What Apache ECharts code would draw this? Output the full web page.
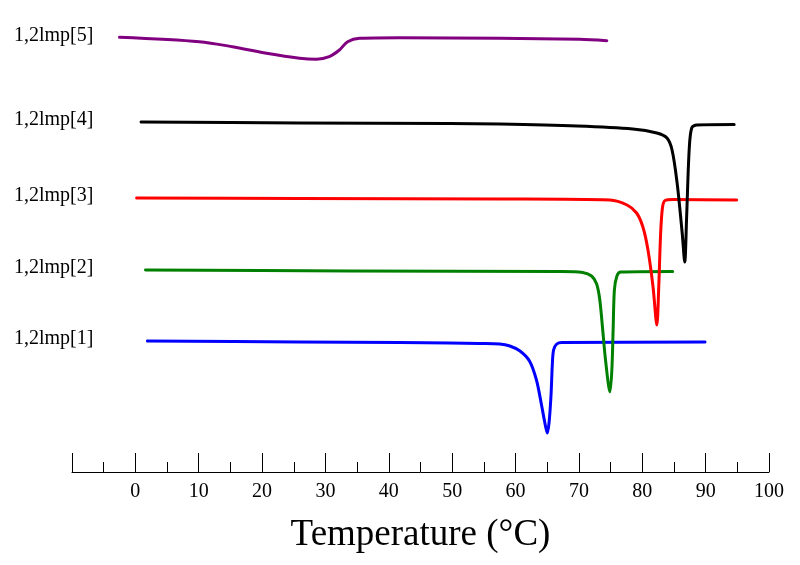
<!DOCTYPE html>
<html>
<head>
<meta charset="utf-8">
<script src="https://cdn.jsdelivr.net/npm/echarts@6/dist/echarts.min.js"></script>
<style>html,body{margin:0;padding:0;background:#fff}#c{width:800px;height:565px}</style>
</head>
<body>
<div id="c"></div>
<script>
// Series names (bottom to top)
const seriesNames = ['1,2lmp[1]', '1,2lmp[2]', '1,2lmp[3]', '1,2lmp[4]', '1,2lmp[5]'];
// Temperature (°C) and stacked heat-flow signal (arbitrary units, offset per trace)
const lmp1T = [1.9, 25.9, 41.7, 49.6, 54.3, 57.5, 59.1, 60.7, 62.2, 63.3, 64.1, 64.6, 65.0, 65.3, 65.6, 65.8, 66.0, 66.5, 67.3, 89.9];
const lmp1Y = [13.1, 13.0, 12.95, 12.9, 12.85, 12.8, 12.6, 12.1, 11.1, 9.2, 6.7, 5.0, 3.9, 5.0, 7.7, 10.7, 12.2, 12.8, 12.95, 13.0];
const lmp2T = [1.6, 33.8, 67.0, 70.6, 72.0, 72.8, 73.3, 73.8, 74.2, 74.9, 75.2, 75.4, 75.6, 76.0, 76.6, 84.8];
const lmp2Y = [20.2, 20.1, 20.05, 19.95, 19.6, 18.8, 17.2, 13.9, 11.2, 8.0, 10.2, 14.2, 18.2, 19.6, 20.0, 20.05];
const lmp3T = [0.2, 25.9, 57.5, 74.9, 77.6, 79.1, 80.1, 80.9, 81.7, 82.3, 82.6, 82.9, 83.2, 83.6, 84.8, 94.9];
const lmp3Y = [27.4, 27.35, 27.3, 27.2, 26.7, 25.9, 24.5, 22.2, 18.5, 14.7, 18.5, 23.9, 26.5, 27.15, 27.25, 27.2];
const lmp4T = [0.9, 25.9, 49.6, 57.5, 69.7, 78.5, 82.3, 83.9, 84.7, 85.5, 86.3, 86.7, 87.0, 87.4, 87.8, 88.6, 94.5];
const lmp4Y = [35.0, 34.9, 34.85, 34.8, 34.6, 34.3, 33.9, 33.4, 32.2, 28.9, 23.9, 21.0, 25.5, 32.2, 34.4, 34.7, 34.75];
const lmp5T = [-2.5, 10.1, 15.3, 20.7, 25.9, 28.6, 30.6, 32.2, 33.5, 35.4, 41.7, 57.5, 70.1, 74.4];
const lmp5Y = [43.47, 43.03, 42.53, 41.87, 41.37, 41.27, 41.53, 42.2, 43.03, 43.37, 43.43, 43.37, 43.27, 43.13];
// x-axis ticks
const xMin = -10, xMax = 100, xStep = 10;

const allT = [lmp1T, lmp2T, lmp3T, lmp4T, lmp5T];
const allY = [lmp1Y, lmp2Y, lmp3Y, lmp4Y, lmp5Y];
const colors = ['#0000ff', '#008000', '#ff0000', '#000000', '#800080'];
const serif = "'Liberation Serif','Times New Roman',serif";

const chart = echarts.init(document.getElementById('c'), null, {renderer: 'canvas'});
const series = allT.map((T, i) => ({
  name: seriesNames[i],
  type: 'line',
  data: T.map((t, j) => [t, allY[i][j]]),
  showSymbol: false,
  smooth: 0.3,
  lineStyle: {color: colors[i], width: 3, cap: 'round', join: 'round'},
  itemStyle: {color: colors[i]},
  animation: false
}));

chart.setOption({
  animation: false,
  grid: {left: 72, right: 31, top: 20, bottom: 93, containLabel: false},
  xAxis: {
    type: 'value', min: xMin, max: xMax, interval: xStep,
    axisLine: {show: true, lineStyle: {color: '#000', width: 1}},
    axisTick: {show: true, inside: true, length: 19, lineStyle: {color: '#000', width: 1}},
    minorTick: {show: true, splitNumber: 2, length: 10, lineStyle: {color: '#000', width: 1}},
    splitLine: {show: false},
    axisLabel: {color: '#000', fontFamily: serif, fontSize: 20, margin: 10,
      formatter: v => (v < 0 ? '' : String(v))},
    name: 'Temperature (°C)',
    nameLocation: 'middle', nameGap: 45,
    nameTextStyle: {color: '#000', fontFamily: serif, fontSize: 37}
  },
  yAxis: {type: 'value', min: 0, max: 45.2, show: false, splitLine: {show: false}},
  series: series
});

const graphics = allT.map((T, i) => {
  const p = chart.convertToPixel({gridIndex: 0}, [T[0], allY[i][0]]);
  return {
    type: 'text', left: 14, top: p[1] - 12,
    style: {text: seriesNames[i], fill: '#000', font: '20px ' + serif}
  };
});
chart.setOption({graphic: graphics});
</script>
</body>
</html>
